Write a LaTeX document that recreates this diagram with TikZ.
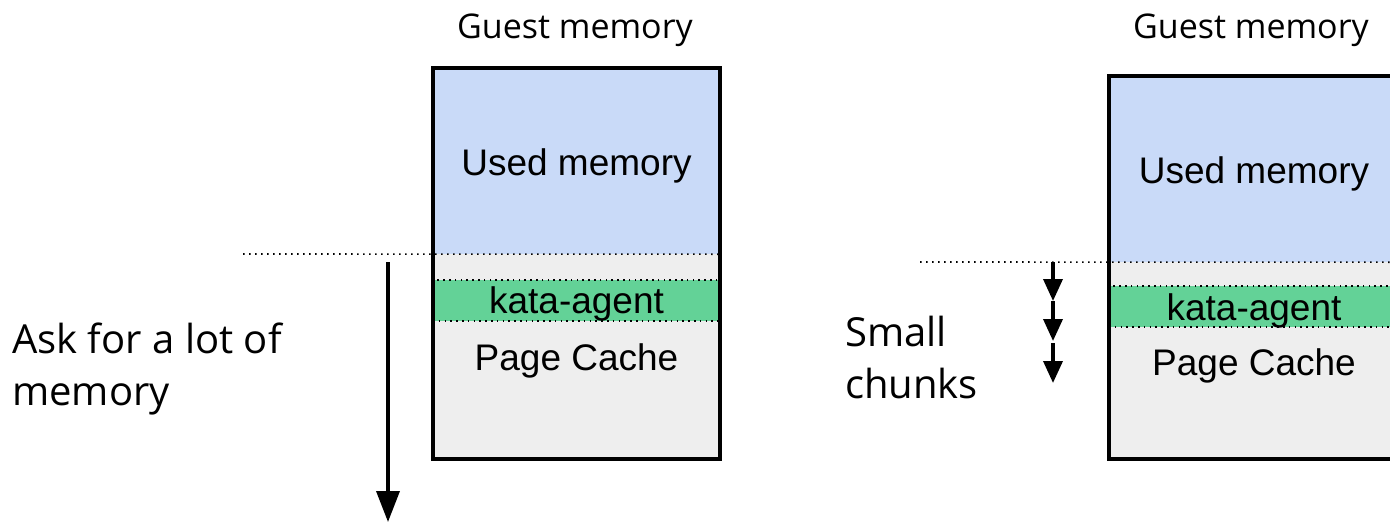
\documentclass[tikz,border=0pt]{standalone}
\usepackage{fontspec}
\setmainfont{Liberation Sans}
\newfontfamily\labfont{Open Sans}
\usetikzlibrary{arrows.meta}
\definecolor{usedblue}{HTML}{C9DAF8}
\definecolor{freegrey}{HTML}{EEEEEE}
\definecolor{agentgreen}{HTML}{63D297}
\tikzset{
  region/.style={draw=none, inner sep=0pt, minimum width=287pt},
  agentband/.style={region, fill=agentgreen, draw=black, line width=1.6pt, dash pattern=on 1.6pt off 4.2pt},
  outline/.style={draw=black, line width=3.6pt},
  dotline/.style={line width=1.6pt, dash pattern=on 1.6pt off 4.4pt},
  title/.style={font=\labfont\fontsize{34}{40}\selectfont, inner sep=0pt},
  sidelabel/.style={font=\labfont\fontsize{40}{52}\selectfont, align=left, anchor=west, inner sep=0pt},
  bigarrow/.style={line width=3.6pt, -{Triangle[length=31pt,width=23pt]}},
  smallarrow/.style={line width=3.6pt, -{Triangle[length=22pt,width=19pt]}},
  plain/.style={inner sep=0pt, font=\fontsize{37}{44}\selectfont}
}
\begin{document}
\begin{tikzpicture}[x=1pt,y=-1pt]
\useasboundingbox (0,0) rectangle (1390,525);
\clip (0,0) rectangle (1390,525);
% ---------- left memory column ----------
\node[region, fill=usedblue, minimum height=186pt] (used1) at (576.5,161) {};
\node[region, fill=freegrey, minimum height=205pt] (free1) at (576.5,356.5) {};
\node[agentband, minimum height=41pt] (agent1) at (576.5,300.5) {};
\node[plain] (usedtxt1) at (576.5,166) {Used memory};
\node[plain] (agenttxt1) at (576.5,304) {kata-agent};
\node[plain] (cache1) at (576.5,361) {Page Cache};
\draw[outline] (used1.north west) rectangle (free1.south east);
\node[title] (title1) at (575,30) {Guest memory};
\coordinate (d1) at (243,254);
\draw[dotline] (d1) -- (used1.south east);
\coordinate (a1s) at (388,262);
\coordinate (a1e) at (388,522);
\draw[bigarrow] (a1s) -- (a1e);
\node[sidelabel] (ask) at (12,369) {Ask for a lot of\\memory};
% ---------- right memory column ----------
\node[region, fill=usedblue, minimum height=186pt] (used2) at (1252.5,169) {};
\node[region, fill=freegrey, minimum height=197pt] (free2) at (1252.5,360.5) {};
\node[agentband, minimum height=41pt] (agent2) at (1252.5,306.5) {};
\node[plain] (usedtxt2) at (1254,174) {Used memory};
\node[plain] (agenttxt2) at (1254,311) {kata-agent};
\node[plain] (cache2) at (1254,366) {Page Cache};
\draw[outline] (used2.north west) rectangle (free2.south east);
\node[title] (title2) at (1251,30) {Guest memory};
\coordinate (d2) at (920,262);
\draw[dotline] (d2) -- (used2.south east);
\coordinate (s0) at (1053,262);
\coordinate (s1) at (1053,301);
\coordinate (s2) at (1053,341);
\coordinate (s3) at (1053,343);
\coordinate (s4) at (1053,383);
\draw[smallarrow] (s0) -- (s1);
\draw[smallarrow] (s1) -- (s2);
\draw[smallarrow] (s3) -- (s4);
\node[sidelabel] (small) at (845,357) {Small\\chunks};
\end{tikzpicture}
\end{document}
